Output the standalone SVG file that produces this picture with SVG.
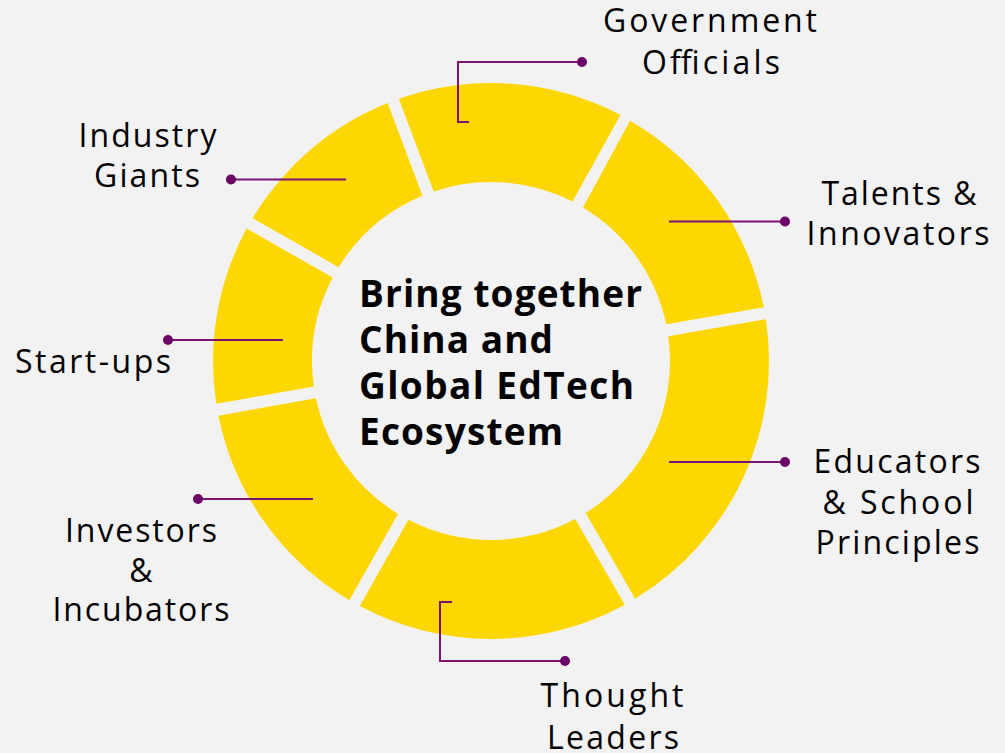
<svg xmlns="http://www.w3.org/2000/svg" width="1005" height="753" viewBox="0 0 1005 753">
  <style>
    .seg { fill: #FFD700; }
    .lbl { font-family: "Open Sans", Lato, "Liberation Sans", sans-serif; font-size: 32px; fill: #000; text-anchor: middle; }
    .hub { font-family: "Open Sans", Lato, "Liberation Sans", sans-serif; font-size: 37px; font-weight: bold; fill: #000; }
    .lead { fill: none; stroke: #7B1374; stroke-width: 2; }
    .dot { fill: #6B0066; }
  </style>
  <rect width="1005" height="753" fill="#F2F2F2"/>

  <!-- ring segments: centre (491,361), outer r 278, inner r 179, 12px gaps -->
  <g id="seg-talents">
    <path class="seg" d="M630.00,120.82 A278,278 0 0,1 763.77,307.30 L666.20,324.33 A179,179 0 0,0 582.98,207.44 Z"/>
    <text class="lbl" x="899" y="205" textLength="155">Talents &amp;</text>
    <text class="lbl" x="898" y="245" textLength="183">Innovators</text>
  </g>
  <g id="seg-government">
    <path class="seg" d="M398.83,98.72 A278,278 0 0,1 620.50,115.00 L572.48,201.62 A179,179 0 0,0 433.67,191.43 Z"/>
    <text class="lbl" x="710" y="32" textLength="214">Government</text>
    <text class="lbl" x="711" y="74" textLength="138">Officials</text>
  </g>
  <g id="seg-industry">
    <path class="seg" d="M252.55,218.08 A278,278 0 0,1 387.59,102.95 L422.44,195.65 A179,179 0 0,0 338.57,267.15 Z"/>
    <text class="lbl" x="147.5" y="147" textLength="138">Industry</text>
    <text class="lbl" x="147" y="187" textLength="106">Giants</text>
  </g>
  <g id="seg-startups">
    <path class="seg" d="M216.32,403.83 A278,278 0 0,1 246.60,228.51 L332.63,277.58 A179,179 0 0,0 313.82,386.47 Z"/>
    <text class="lbl" x="93" y="373" textLength="156">Start-ups</text>
  </g>
  <g id="seg-investors">
    <path class="seg" d="M349.33,600.20 A278,278 0 0,1 218.42,415.65 L315.93,398.28 A179,179 0 0,0 397.95,513.91 Z"/>
    <text class="lbl" x="141" y="542" textLength="152">Investors</text>
    <text class="lbl" x="141" y="582">&amp;</text>
    <text class="lbl" x="141" y="621" textLength="177">Incubators</text>
  </g>
  <g id="seg-thought">
    <path class="seg" d="M624.77,604.70 A278,278 0 0,1 359.79,606.09 L408.40,519.81 A179,179 0 0,0 575.25,518.93 Z"/>
    <text class="lbl" x="612" y="707" textLength="143">Thought</text>
    <text class="lbl" x="613" y="749" textLength="132">Leaders</text>
  </g>
  <g id="seg-educators">
    <path class="seg" d="M765.83,319.13 A278,278 0 0,1 635.17,598.70 L585.65,512.93 A179,179 0 0,0 668.27,336.15 Z"/>
    <text class="lbl" x="897" y="473" textLength="167">Educators</text>
    <text class="lbl" x="898" y="514" textLength="151">&amp; School</text>
    <text class="lbl" x="897.5" y="554" textLength="164">Principles</text>
  </g>

  <!-- centre statement -->
  <g id="hub">
    <text class="hub" x="359" y="307" textLength="283">Bring together</text>
    <text class="hub" x="359" y="353" textLength="194">China and</text>
    <text class="hub" x="359" y="399" textLength="275">Global EdTech</text>
    <text class="hub" x="359" y="445" textLength="204">Ecosystem</text>
  </g>

  <!-- leader lines from segments to their labels -->
  <g id="connectors">
    <polyline class="lead" points="469,122 458,122 458,62 582,62"/>
    <circle class="dot" cx="582" cy="62" r="5"/>
    <line class="lead" x1="669" y1="221.5" x2="785" y2="221.5"/>
    <circle class="dot" cx="785" cy="221.5" r="5"/>
    <line class="lead" x1="669" y1="462" x2="785" y2="462"/>
    <circle class="dot" cx="785" cy="462" r="5"/>
    <polyline class="lead" points="452,602 440,602 440,661 565,661"/>
    <circle class="dot" cx="565" cy="661" r="5"/>
    <line class="lead" x1="313" y1="499" x2="198" y2="499"/>
    <circle class="dot" cx="198" cy="499" r="5"/>
    <line class="lead" x1="283" y1="340" x2="168" y2="340"/>
    <circle class="dot" cx="168" cy="340" r="5"/>
    <line class="lead" x1="346" y1="179.5" x2="231" y2="179.5"/>
    <circle class="dot" cx="231" cy="179.5" r="5"/>
  </g>
</svg>
